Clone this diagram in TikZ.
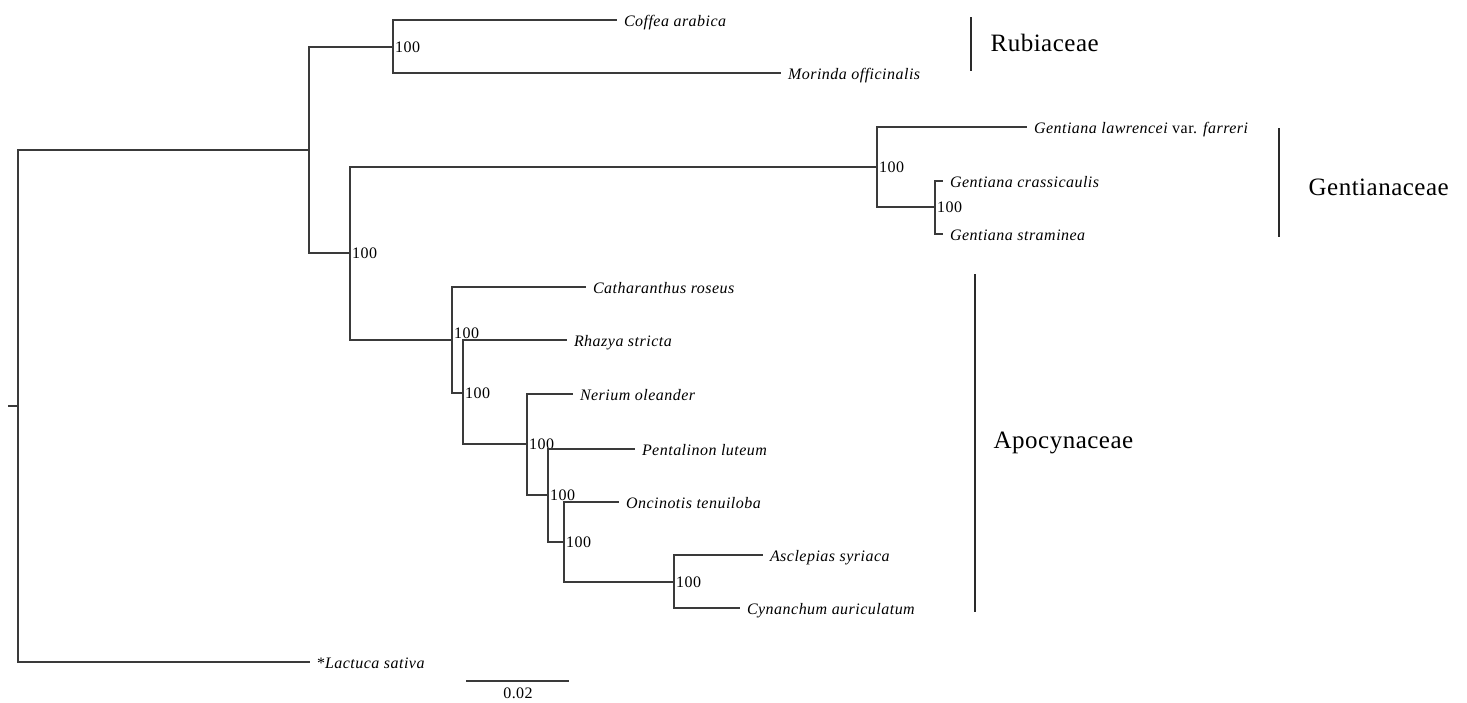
\documentclass[tikz,border=0pt]{standalone}
\usepackage{fontspec}
\usepackage{xcolor}
\setmainfont{Liberation Serif}
\newfontfamily\taxfont[LetterSpace=3]{Liberation Serif}
\newfontfamily\cladefont[LetterSpace=2]{Liberation Serif}
\definecolor{treeline}{HTML}{3A3A3A}
\definecolor{barline}{HTML}{2A2A2A}

\begin{document}
\begin{tikzpicture}[x=1pt, y=-1pt, line width=1.2pt,
    every edge/.style={draw=treeline, line width=1.2pt, to path={|- (\tikztotarget)}},
    tip/.style={anchor=west, inner xsep=7pt, inner ysep=0pt, outer sep=0pt, text height=12.5pt, text depth=0.5pt,
                font={\taxfont\fontsize{16}{19}\selectfont\itshape}},
    boot/.style={anchor=west, inner sep=1.5pt, font={\taxfont\fontsize{16}{19}\selectfont}},
    clade/.style={anchor=west, inner sep=0pt, text height=16.5pt, text depth=0pt,
                  font={\cladefont\fontsize{25}{30}\selectfont}},
    bar/.style={draw=barline, line width=2.4pt}]
                    \useasboundingbox (0,0) rectangle (1467,702);

                    % internal nodes
                    \coordinate (10) at (8,406);
                    \coordinate (11) at (18,406);
                    \coordinate (12) at (309,150);
                    \coordinate (13) at (393,47);
                    \coordinate (14) at (350,253);
                    \coordinate (15) at (877,167);
                    \coordinate (16) at (935,207);
                    \coordinate (17) at (452,340);
                    \coordinate (18) at (463,393);
                    \coordinate (19) at (527,444);
                    \coordinate (20) at (548,495);
                    \coordinate (21) at (564,542);
                    \coordinate (22) at (674,582);

                    % tips
                    \node [tip](31) at (617,20) {Coffea arabica};
                    \node [tip](32) at (781,73) {Morinda officinalis};
                    \node [tip](33) at (1027,127) {Gentiana lawrencei {\upshape var.} farreri};
                    \node [tip](34) at (943,181) {Gentiana crassicaulis};
                    \node [tip](35) at (943,234) {Gentiana straminea};
                    \node [tip](36) at (586,287) {Catharanthus roseus};
                    \node [tip](37) at (567,340) {Rhazya stricta};
                    \node [tip](38) at (573,394) {Nerium oleander};
                    \node [tip](39) at (635,449) {Pentalinon luteum};
                    \node [tip](40) at (619,502) {Oncinotis tenuiloba};
                    \node [tip](41) at (763,555) {Asclepias syriaca};
                    \node [tip](42) at (740,608) {Cynanchum auriculatum};
                    \node [tip](43) at (310,662) {{\upshape *}Lactuca sativa};

                    % bootstrap values
                    \node [boot](51) at (13) {100};
                    \node [boot](52) at (14) {100};
                    \node [boot](53) at (15) {100};
                    \node [boot](54) at (16) {100};
                    \node [boot, yshift=7pt](55) at (17) {100};
                    \node [boot](56) at (18) {100};
                    \node [boot](57) at (19) {100};
                    \node [boot](58) at (20) {100};
                    \node [boot](59) at (21) {100};
                    \node [boot](60) at (22) {100};

                    \path
                        (10) edge (11)
                        (11) edge (12)
                        (11) edge (43.west)
                        (12) edge (13)
                        (12) edge (14)
                        (13) edge (31.west)
                        (13) edge (32.west)
                        (14) edge (15)
                        (14) edge (17)
                        (15) edge (33.west)
                        (15) edge (16)
                        (16) edge (34.west)
                        (16) edge (35.west)
                        (17) edge (36.west)
                        (17) edge (18)
                        (18) edge (37.west)
                        (18) edge (19)
                        (19) edge (38.west)
                        (19) edge (20)
                        (20) edge (39.west)
                        (20) edge (21)
                        (21) edge (40.west)
                        (21) edge (22)
                        (22) edge (41.west)
                        (22) edge (42.west)
                    ;

                    % families
                    \coordinate (61) at (971,17);
                    \coordinate (62) at (971,71);
                    \coordinate (63) at (1279,128);
                    \coordinate (64) at (1279,237);
                    \coordinate (65) at (975,274);
                    \coordinate (66) at (975,612);
                    \draw [bar] (61) -- (62);
                    \draw [bar] (63) -- (64);
                    \draw [bar] (65) -- (66);
                    \node [clade](67) at (990,43.5) {Rubiaceae};
                    \node [clade](68) at (1308,187) {Gentianaceae};
                    \node [clade](69) at (993,440) {Apocynaceae};

                    % scale bar
                    \coordinate (71) at (466,681);
                    \coordinate (72) at (569,681);
                    \draw [draw=treeline] (71) -- (72);
                    \node [boot, anchor=north](73) at (518,686) {0.02};

                \end{tikzpicture}
\end{document}
